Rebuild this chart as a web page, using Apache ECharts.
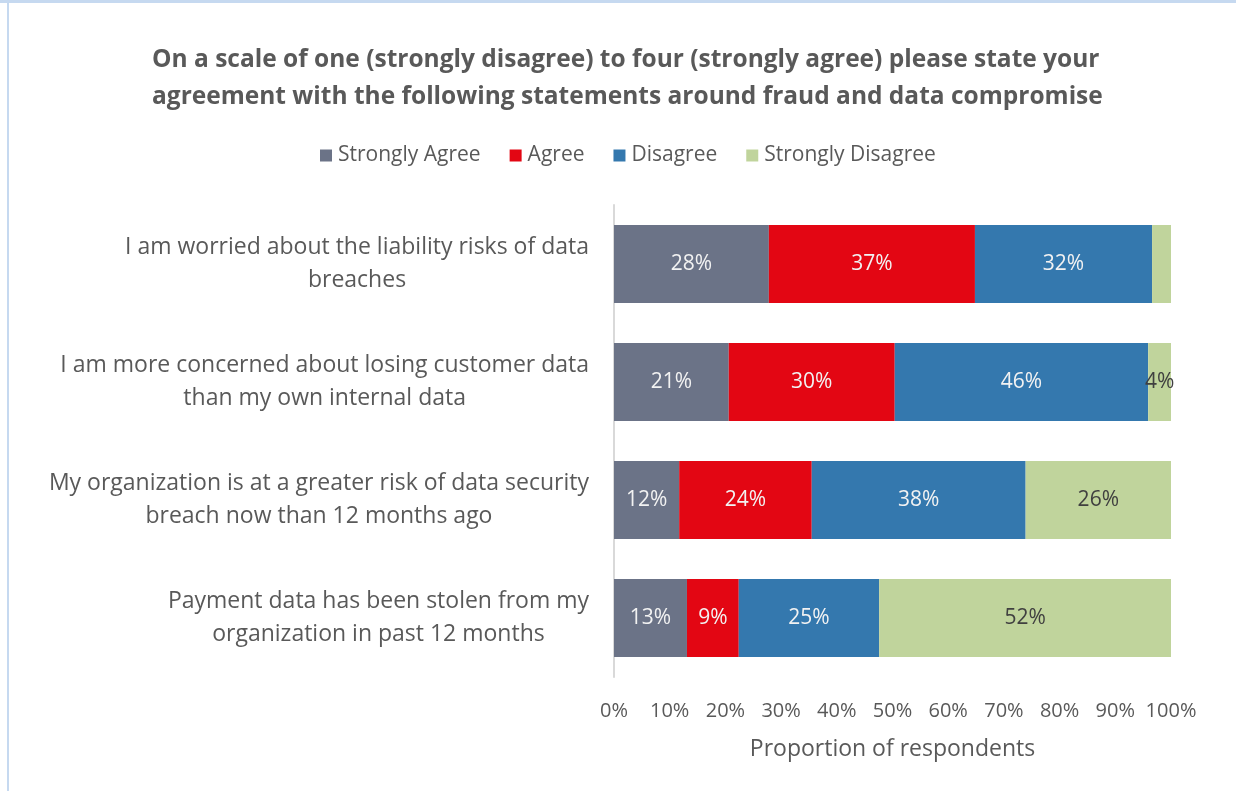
<!DOCTYPE html>
<html>
<head>
<meta charset="utf-8">
<script src="https://cdn.jsdelivr.net/npm/echarts@6/dist/echarts.min.js"></script>
<style>
  html, body { margin: 0; padding: 0; background: #fff; }
  .frame { position: relative; width: 1236px; height: 791px; overflow: hidden; }
  .top-band { position: absolute; left: 0; top: 0; width: 1236px; height: 3px; background: #c6d9f0; }
  .left-line { position: absolute; left: 7px; top: 0; width: 2px; height: 791px; background: #c6d9f0; }
  #chart { position: absolute; left: 0; top: 0; width: 1236px; height: 791px; }
</style>
</head>
<body>
<div class="frame">
  <div class="top-band"></div>
  <div class="left-line"></div>
  <div id="chart"></div>
</div>
<script>
// statements, top to bottom
const statements = [
  'I am worried about the liability risks of data\nbreaches',
  'I am more concerned about losing customer data\nthan my own internal data',
  'My organization is at a greater risk of data security\nbreach now than 12 months ago',
  'Payment data has been stolen from my\norganization in past 12 months'
];
const seriesNames = ['Strongly Agree', 'Agree', 'Disagree', 'Strongly Disagree'];
// percentages
const stronglyAgree = [27.8, 20.6, 11.7, 13.1];
const agree = [37.0, 29.8, 23.8, 9.3];
const disagree = [31.8, 45.5, 38.4, 25.2];
const stronglyDisagree = [3.4, 4.1, 26.1, 52.4];
const xTicks = [0, 10, 20, 30, 40, 50, 60, 70, 80, 90, 100];

const colors = ['#6b7387', '#e30613', '#3478ae', '#c0d49c'];
const labelColors = ['#f2f2f2', '#f2f2f2', '#f2f2f2', '#404040'];
const font = '"Open Sans", sans-serif';

const chart = echarts.init(document.getElementById('chart'));

const values = [stronglyAgree, agree, disagree, stronglyDisagree];
const series = seriesNames.map((name, i) => ({
  name: name,
  type: 'bar',
  stack: 'total',
  data: values[i],
  barCategoryGap: '34%',
  itemStyle: { color: colors[i] },
  label: {
    show: true,
    position: 'inside',
    color: labelColors[i],
    fontFamily: font,
    fontSize: 21,
    formatter: p => (p.value < 3.5 ? '' : Math.round(p.value) + '%')
  }
}));

chart.setOption({
  backgroundColor: 'transparent',
  animation: false,
  textStyle: { fontFamily: font },
  title: {
    text: 'On a scale of one (strongly disagree) to four (strongly agree) please state your\nagreement with the following statements around fraud and data compromise',
    left: 147,
    top: 37,
    textStyle: {
      color: '#595959',
      fontFamily: font,
      fontSize: 24.5,
      fontWeight: 'bold',
      lineHeight: 37
    }
  },
  legend: {
    data: seriesNames,
    top: 140,
    left: 315,
    icon: 'rect',
    itemWidth: 12,
    itemHeight: 12,
    itemGap: 29,
    textStyle: { color: '#595959', fontSize: 21, fontFamily: font, padding: [0, 0, 0, 1] }
  },
  grid: {
    left: 614,
    right: 65,
    top: 205,
    bottom: 114,
    outerBoundsMode: 'none'
  },
  xAxis: {
    type: 'value',
    min: xTicks[0],
    max: xTicks[xTicks.length - 1],
    interval: 10,
    axisLine: { show: false },
    axisTick: { show: false },
    splitLine: { show: false },
    axisLabel: {
      color: '#595959',
      fontSize: 20,
      fontFamily: font,
      margin: 24,
      formatter: '{value}%'
    },
    name: 'Proportion of respondents',
    nameLocation: 'middle',
    nameGap: 61,
    nameTextStyle: { color: '#595959', fontSize: 23, fontFamily: font }
  },
  yAxis: {
    type: 'category',
    inverse: true,
    data: statements,
    axisLine: { show: true, lineStyle: { color: '#d9d9d9', width: 2 } },
    axisTick: { show: false },
    axisLabel: {
      margin: 25,
      color: '#595959',
      fontSize: 23,
      fontFamily: font,
      lineHeight: 33,
      formatter: v => v.split('\n').map(s => '{c|' + s + '}').join('\n'),
      rich: { c: { align: 'center', fontSize: 23, lineHeight: 33, color: '#595959' } }
    }
  },
  series: series
});

window.addEventListener('resize', () => chart.resize());
</script>
</body>
</html>
